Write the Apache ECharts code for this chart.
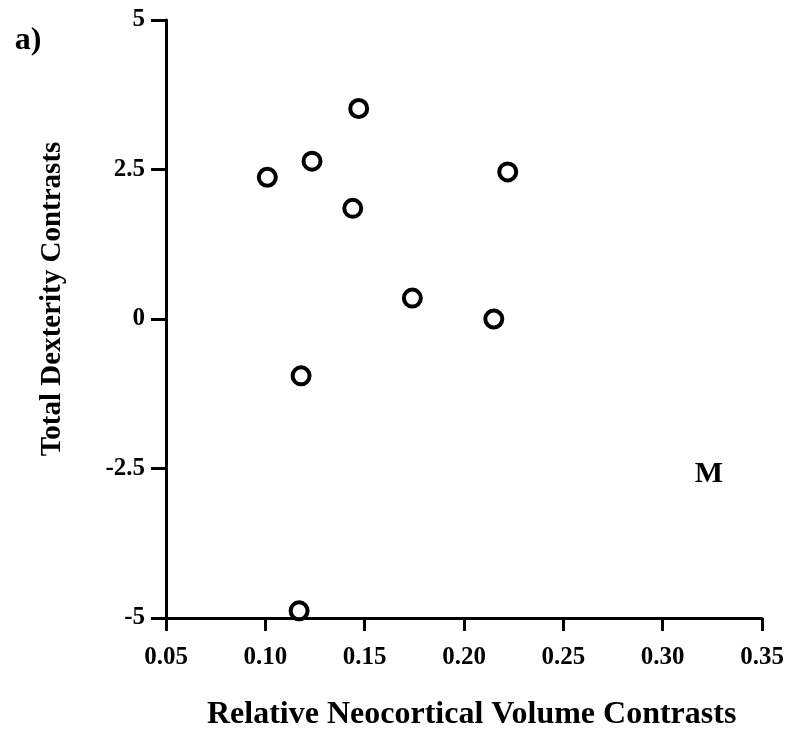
<!DOCTYPE html>
<html>
<head>
<meta charset="utf-8">
<script src="https://cdn.jsdelivr.net/npm/echarts@6/dist/echarts.min.js"></script>
<style>html,body{margin:0;padding:0;background:#fff;}#c{width:793px;height:734px;}</style>
</head>
<body>
<div id="c"></div>
<script>
var xValues = [0.101, 0.1235, 0.147, 0.144, 0.222, 0.174, 0.215, 0.118, 0.117];
var yValues = [2.37, 2.64, 3.52, 1.85, 2.46, 0.35, 0.0, -0.95, -4.88];
var xTicks = [0.05, 0.10, 0.15, 0.20, 0.25, 0.30, 0.35];
var yTicks = [-5, -2.5, 0, 2.5, 5];
var xTitle = 'Relative Neocortical Volume Contrasts';
var yTitle = 'Total Dexterity Contrasts';
var panelLabel = 'a)';
var cornerLabel = 'M';

var points = xValues.map(function (x, i) { return [x, yValues[i]]; });
var FONT = '"Liberation Serif", "Times New Roman", serif';
var chart = echarts.init(document.getElementById('c'), null, { renderer: 'canvas' });
chart.setOption({
  animation: false,
  backgroundColor: '#fff',
  grid: { left: 166, right: 31, top: 20, bottom: 116, containLabel: false },
  xAxis: {
    type: 'value', min: xTicks[0], max: xTicks[xTicks.length - 1], interval: 0.05,
    splitLine: { show: false },
    axisLine: { show: true, onZero: false, lineStyle: { color: '#000', width: 3 } },
    axisTick: { show: true, inside: false, length: 13, lineStyle: { color: '#000', width: 3 } },
    axisLabel: { color: '#000', fontFamily: FONT, fontSize: 25, fontWeight: 'bold', margin: 27,
      formatter: function (v) { return v.toFixed(2); } }
  },
  yAxis: {
    type: 'value', min: yTicks[0], max: yTicks[yTicks.length - 1], interval: 2.5,
    splitLine: { show: false },
    axisLine: { show: true, onZero: false, lineStyle: { color: '#000', width: 3 } },
    axisTick: { show: true, inside: false, length: 15, lineStyle: { color: '#000', width: 3 } },
    axisLabel: { color: '#000', fontFamily: FONT, fontSize: 25, fontWeight: 'bold', margin: 21 }
  },
  graphic: [
    { type: 'text', left: 207, top: 699, style: { text: xTitle, font: 'bold 32px ' + FONT, fill: '#000' } },
    { type: 'text', x: 53, y: 299, rotation: Math.PI / 2,
      style: { text: yTitle, font: 'bold 29px ' + FONT, fill: '#000', align: 'center', verticalAlign: 'middle' } },
    { type: 'text', x: 28, y: 41, style: { text: panelLabel, font: 'bold 32px ' + FONT, fill: '#000', align: 'center', verticalAlign: 'middle' } },
    { type: 'text', x: 709, y: 474, style: { text: cornerLabel, font: 'bold 30px ' + FONT, fill: '#000', align: 'center', verticalAlign: 'middle' } }
  ],
  series: [{
    type: 'scatter',
    data: points,
    symbol: 'circle',
    symbolSize: 17,
    itemStyle: { color: '#fff', borderColor: '#000', borderWidth: 4, opacity: 1 }
  }]
});
</script>
</body>
</html>
